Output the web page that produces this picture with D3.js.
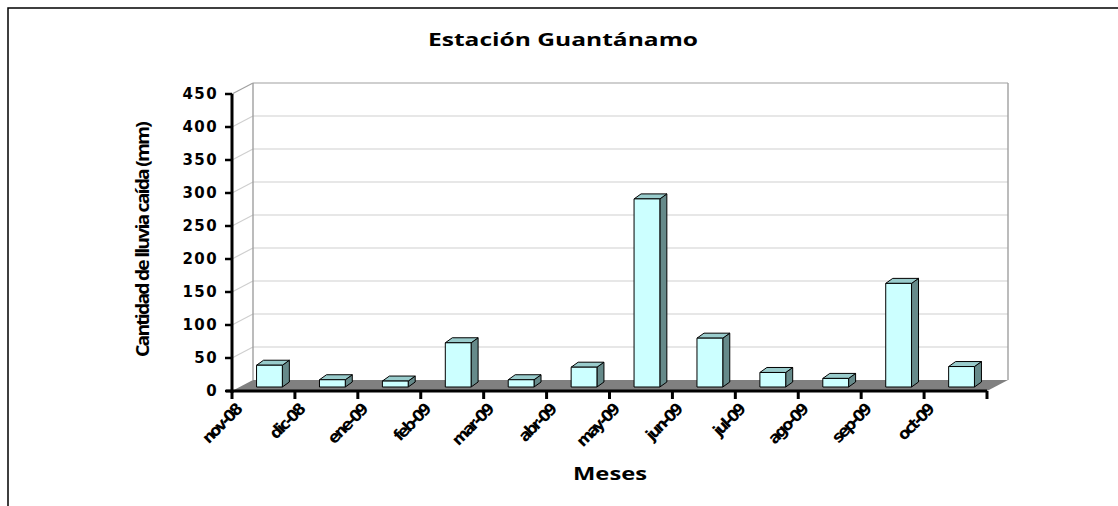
<!DOCTYPE html>
<html>
<head>
<meta charset="utf-8">
<script src="https://cdn.jsdelivr.net/npm/d3@7"></script>
<style>
  html, body { margin: 0; padding: 0; background: #fff; }
  svg { display: block; }
</style>
</head>
<body>
<svg id="chart" width="1118" height="506"></svg>
<script>
// Monthly rainfall, Guantánamo station
const months = ["nov-08","dic-08","ene-09","feb-09","mar-09","abr-09","may-09","jun-09","jul-09","ago-09","sep-09","oct-09"];
const rainfall = [33, 11, 9, 67, 11, 30, 285, 74, 22, 13, 157, 31];
const yTicks = [0, 50, 100, 150, 200, 250, 300, 350, 400, 450];
const titleText = "Estación Guantánamo";
const xTitle = "Meses";
const yTitle = "Cantidad de lluvia caída (mm)";

const svg = d3.select("#chart");

// plot geometry (front plane)
const plotLeft = 232, plotRight = 987, plotBottom = 391, plotTop = 94;
const depth = { dx: 21, dy: -11 };      // floor / wall depth
const barFront = { dx: 6, dy: -4 };     // bar front face offset into depth
const barDepth = { dx: 7, dy: -5 };     // bar thickness in depth

const x = d3.scaleBand().domain(months).range([plotLeft, plotRight]).padding(0);
const y = d3.scaleLinear().domain([0, 450]).range([plotBottom, plotTop]);

// outer frame
svg.append("path")
  .attr("d", "M8,506V8H1118")
  .attr("fill", "none").attr("stroke", "#000").attr("stroke-width", 1.5);

// title
svg.append("text")
  .attr("x", 563).attr("y", 46)
  .attr("text-anchor", "middle")
  .attr("font-family", "'Open Sans', sans-serif")
  .attr("font-weight", "bold").attr("font-size", 18.5)
  .attr("textLength", 270).attr("lengthAdjust", "spacingAndGlyphs")
  .text(titleText);

// floor
const floor = [[plotLeft, plotBottom], [plotLeft + depth.dx, plotBottom + depth.dy], [plotRight + depth.dx, plotBottom + depth.dy], [plotRight, plotBottom]];
svg.append("polygon").attr("points", floor.map(p => p.join(",")).join(" ")).attr("fill", "#808080");

// gridlines on back wall and side wall
const grid = svg.append("g");
yTicks.filter(t => t > 0).forEach(t => {
  const yy = y(t);
  const col = t === 450 ? "#a0a0a0" : "#cfcfcf";
  grid.append("line")
    .attr("x1", plotLeft + depth.dx).attr("x2", plotRight + depth.dx)
    .attr("y1", yy + depth.dy).attr("y2", yy + depth.dy)
    .attr("stroke", col).attr("stroke-width", 1.2);
  grid.append("line")
    .attr("x1", plotLeft).attr("x2", plotLeft + depth.dx)
    .attr("y1", yy).attr("y2", yy + depth.dy)
    .attr("stroke", col).attr("stroke-width", 1.2);
});
// back wall vertical edges
[plotLeft + depth.dx, plotRight + depth.dx].forEach(xx => {
  grid.append("line")
    .attr("x1", xx).attr("x2", xx)
    .attr("y1", y(450) + depth.dy).attr("y2", plotBottom + depth.dy)
    .attr("stroke", "#a0a0a0").attr("stroke-width", 1.4);
});

// bars
const barW = x.bandwidth() * 0.41;
const bars = svg.append("g");
months.forEach((m, i) => {
  const v = rainfall[i];
  const x0 = x(m) + (x.bandwidth() - barW) / 2 + barFront.dx;
  const x1 = x0 + barW;
  const yb = y(0) + barFront.dy;
  const yt = y(v) + barFront.dy;
  const dx = barDepth.dx, dy = barDepth.dy;
  const g = bars.append("g").attr("stroke", "#000").attr("stroke-width", 1).attr("stroke-linejoin", "round");
  g.append("polygon")
    .attr("points", [[x1, yt], [x1 + dx, yt + dy], [x1 + dx, yb + dy], [x1, yb]].map(p => p.join(",")).join(" "))
    .attr("fill", "#668a8a");
  g.append("polygon")
    .attr("points", [[x0, yt], [x0 + dx, yt + dy], [x1 + dx, yt + dy], [x1, yt]].map(p => p.join(",")).join(" "))
    .attr("fill", "#99cccc");
  g.append("rect")
    .attr("x", x0).attr("y", yt).attr("width", barW).attr("height", yb - yt)
    .attr("fill", "#ccffff");
});

// y axis
svg.append("line")
  .attr("x1", plotLeft).attr("x2", plotLeft).attr("y1", plotTop).attr("y2", plotBottom + 2)
  .attr("stroke", "#000").attr("stroke-width", 3);
const yAx = svg.append("g");
yTicks.forEach(t => {
  yAx.append("line")
    .attr("x1", plotLeft - 7).attr("x2", plotLeft).attr("y1", y(t)).attr("y2", y(t))
    .attr("stroke", "#000").attr("stroke-width", 2.5);
  yAx.append("text")
    .attr("x", 218).attr("y", y(t)).attr("dy", "0.36em")
    .attr("text-anchor", "end")
    .attr("font-family", "'DejaVu Sans', sans-serif")
    .attr("font-weight", "bold").attr("font-size", 15)
    .attr("letter-spacing", 1.4)
    .text(t);
});

// x axis
svg.append("line")
  .attr("x1", plotLeft - 6).attr("x2", plotRight).attr("y1", plotBottom).attr("y2", plotBottom)
  .attr("stroke", "#000").attr("stroke-width", 3);
const tickXs = months.map(m => x(m)).concat([plotRight]);
const xAx = svg.append("g");
tickXs.forEach(tx => {
  xAx.append("line")
    .attr("x1", tx).attr("x2", tx).attr("y1", plotBottom).attr("y2", plotBottom + 8)
    .attr("stroke", "#000").attr("stroke-width", 3);
});
months.forEach(m => {
  const tx = x(m) + 2, ty = 403;
  xAx.append("text")
    .attr("transform", `translate(${tx},${ty}) rotate(-45)`)
    .attr("text-anchor", "end")
    .attr("dy", "0.72em")
    .attr("font-family", "'DejaVu Sans', sans-serif")
    .attr("font-weight", "bold").attr("font-size", 16)
    .attr("letter-spacing", -2.4)
    .text(m);
});

// axis titles
svg.append("text")
  .attr("x", 610).attr("y", 480)
  .attr("text-anchor", "middle")
  .attr("font-family", "'Open Sans', sans-serif")
  .attr("font-weight", "bold").attr("font-size", 17)
  .attr("textLength", 74).attr("lengthAdjust", "spacingAndGlyphs")
  .text(xTitle);

svg.append("text")
  .attr("transform", "translate(149,240) rotate(-90)")
  .attr("text-anchor", "middle")
  .attr("font-family", "'Open Sans', sans-serif")
  .attr("font-weight", "bold").attr("font-size", 17)
  .attr("letter-spacing", -1.6)
  .attr("textLength", 234).attr("lengthAdjust", "spacingAndGlyphs")
  .text(yTitle);
</script>
</body>
</html>
